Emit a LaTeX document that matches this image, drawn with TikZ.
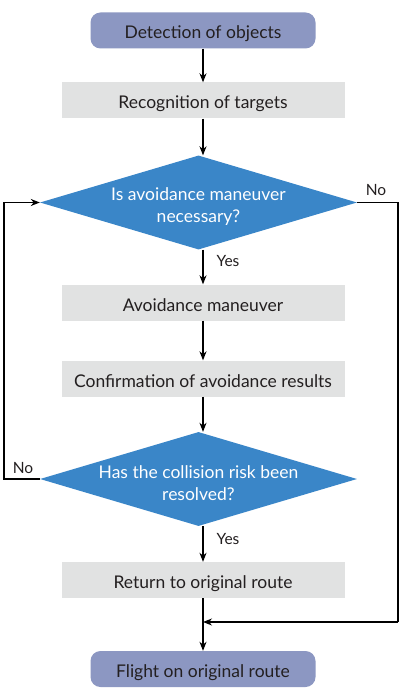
\documentclass[tikz,border=0pt]{standalone}
\usepackage{fontspec}
\setmainfont{Lato}
\usetikzlibrary{shapes.geometric,arrows.meta}
\definecolor{termfill}{HTML}{8C97C2}
\definecolor{procfill}{HTML}{E1E2E2}
\definecolor{decfill}{HTML}{3A86C8}
\definecolor{txt}{HTML}{231F20}
\begin{document}
\begin{tikzpicture}[x=1pt,y=-1pt,
  every node/.style={font=\fontsize{17.5}{22}\selectfont},
  term/.style={rectangle,rounded corners=10pt,fill=termfill,text=txt,minimum width=225pt,minimum height=36pt,inner sep=0pt,text height=17pt,text depth=0pt},
  proc/.style={rectangle,fill=procfill,text=txt,minimum width=283pt,minimum height=36pt,inner sep=0pt,text height=17pt,text depth=0pt},
  dec/.style={diamond,fill=decfill,aspect=3.37,minimum width=317pt,minimum height=94pt,inner sep=0pt},
  dectext/.style={text=white,align=center,inner sep=0pt,yshift=-4.5pt},
  lab/.style={text=txt,font=\fontsize{15.5}{17}\selectfont},
  conn/.style={draw=black,line width=1.2pt,-{Stealth[length=9pt,width=7pt]}},
  line/.style={draw=black,line width=1.2pt}
]
\useasboundingbox (0,0) rectangle (400,700);
\node[term] (det) at (203,30.5) {Detection of objects};
\node[proc] (rec) at (203,100.5) {Recognition of targets};
\node[dec] (d1) at (198.5,202.5) {};
\node[dectext] (d1t) at (d1.center) {Is avoidance maneuver\\necessary?};
\node[proc] (avo) at (203,302.5) {Avoidance maneuver};
\node[proc] (con) at (203,378.5) {Confirmation of avoidance results};
\node[dec] (d2) at (198.5,479) {};
\node[dectext] (d2t) at (d2.center) {Has the collision risk been\\resolved?};
\node[proc] (ret) at (203,580) {Return to original route};
\node[term] (fli) at (203,669) {Flight on original route};
\coordinate (m) at (203,622);
\coordinate (rA) at (398,202.5);
\coordinate (rB) at (398,622);
\coordinate (lA) at (4,479);
\coordinate (lB) at (4,202.5);

\draw[conn] (det.south -| 203,0) -- (rec.north -| 203,0);
\draw[conn] (rec.south -| 203,0) -- (d1.north -| 203,0);
\draw[conn] (d1.south -| 203,0) -- (avo.north -| 203,0);
\draw[conn] (avo.south -| 203,0) -- (con.north -| 203,0);
\draw[conn] (con.south -| 203,0) -- (d2.north -| 203,0);
\draw[conn] (d2.south -| 203,0) -- (ret.north -| 203,0);
\draw[line] (ret.south -| 203,0) -- (m);
\draw[conn] (m) -- (fli.north -| 203,0);
\draw[line] (d1.east) -- (rA) -- (rB);
\draw[conn] (rB) -- (m);
\draw[line] (d2.west) -- (lA) -- (lB);
\draw[conn] (lB) -- (d1.west);

\node[lab] (no1) at (376,190) {No};
\node[lab] (yes1) at (228,261) {Yes};
\node[lab] (no2) at (23,468) {No};
\node[lab] (yes2) at (228,539) {Yes};
\end{tikzpicture}
\end{document}
